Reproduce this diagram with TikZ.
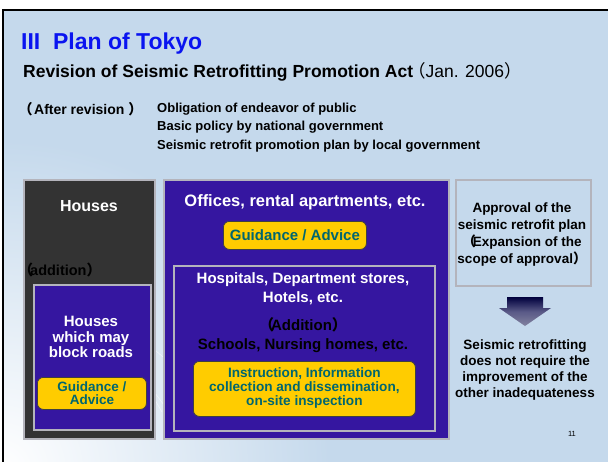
\documentclass[tikz,border=0pt]{standalone}
\usepackage{fontspec}
\setmainfont{Liberation Sans}
\newfontfamily\cjk{Noto Sans CJK SC}
\usetikzlibrary{shadings}
\definecolor{bg}{HTML}{C5D9EC}
\definecolor{purp}{HTML}{3516A0}
\definecolor{dark}{HTML}{333333}
\definecolor{yel}{HTML}{FFCC00}
\definecolor{teal}{HTML}{00666F}
\definecolor{ttl}{HTML}{0A14F0}
\definecolor{edge}{HTML}{B4B4BC}
\newcommand{\fs}[2]{\fontsize{#1}{#2}\selectfont}
\tikzset{
  panel/.style={draw=edge, line width=1.6pt, anchor=north west, inner sep=0pt},
  yelbox/.style={draw=black!75, line width=0.8pt, fill=yel, rounded corners=6pt, anchor=north west, inner sep=0pt},
  txt/.style={inner sep=0pt, align=center, font=\bfseries},
  listline/.style={anchor=base west, inner sep=0pt, font=\bfseries\fs{13}{15}},
}
\begin{document}
\begin{tikzpicture}[x=1pt,y=-1pt]
\useasboundingbox (0,0) rectangle (608,461);
% slide background
\begin{scope}
\clip (0,0) rectangle (608,461);
\fill[white] (0,0) rectangle (608,461);
\fill[bg] (3,10) rectangle (620,470);
\begin{scope}
\clip (3,10) rectangle (620,470);
\shade[inner color=white, outer color=bg] (0,470) circle (330);
\end{scope}
\draw[black, line width=2pt] (3,10) rectangle (620,470);
% faint streaks
\draw[white, opacity=0.6, line width=0.6pt] (155,350) -- (163,357);
\draw[white, opacity=0.6, line width=0.6pt] (155,393) -- (164,405);
\draw[white, opacity=0.6, line width=0.6pt] (155,400) -- (162,412);
\end{scope}
% header texts
\node[anchor=base west, inner sep=0pt, text=ttl, font=\bfseries\fs{23}{26}] (title) at (21,49) {III\ \ Plan of Tokyo};
\node[anchor=base west, inner sep=0pt, font=\fs{17.5}{20}] (sub) at (23,77) {\textbf{Revision of Seismic Retrofitting Promotion Act}\hspace{-5pt}{\cjk （}Jan. 2006{\cjk ）}};
\node[anchor=base west, inner sep=0pt, font=\bfseries\fs{14}{16}] (after) at (18.5,114) {{\cjk （}\hspace{1.5pt}After revision {\cjk ）}};
\node[listline] (l1) at (157,112) {Obligation of endeavor of public};
\node[listline] (l2) at (157,130) {Basic policy by national government};
\node[listline] (l3) at (157,149) {Seismic retrofit promotion plan by local government};
% houses column
\node[panel, fill=dark, minimum width=131pt, minimum height=259pt] (houses) at (23,179) {};
\node[txt, text=white, font=\bfseries\fs{16}{18}] (housest) at (89,206) {Houses};
\node[anchor=west, inner sep=0pt, font=\bfseries\fs{14.5}{16}] (addl) at (18.5,270) {{\cjk （}\hspace{-3pt}addition{\cjk ）}};
\node[panel, fill=purp, minimum width=117pt, minimum height=145pt] (block) at (33,284) {};
\node[txt, text=white, font=\bfseries\fs{15}{15.5}] (blockt) at (91,337) {Houses\\which may\\block roads};
\node[yelbox, minimum width=109pt, minimum height=32pt] (g1) at (37,377) {};
\node[txt, text=teal, font=\bfseries\fs{13.5}{13.5}] (g1t) at (g1.center) {Guidance /\\Advice};
% offices column
\node[panel, fill=purp, minimum width=285pt, minimum height=259pt] (offices) at (163,179) {};
\node[txt, text=white, font=\bfseries\fs{16.5}{18}] (offt) at (305,202) {Offices, rental apartments, etc.};
\node[yelbox, minimum width=143pt, minimum height=28pt] (g2) at (223,221) {};
\node[txt, text=teal, font=\bfseries\fs{15}{16}] (g2t) at (g2.center) {Guidance / Advice};
\node[panel, fill=purp, minimum width=261pt, minimum height=165pt] (hosp) at (173,265) {};
\node[txt, text=white, font=\bfseries\fs{15}{19}] (hospt) at (303,289) {Hospitals, Department stores,\\Hotels, etc.};
\node[txt, text=black, font=\bfseries\fs{15}{19}] (schoolt) at (303,335) {{\cjk （}\hspace{-3pt}Addition{\cjk ）}\hspace{-6pt}\\Schools, Nursing homes, etc.};
\node[yelbox, minimum width=222pt, minimum height=55pt] (g3) at (193,361) {};
\node[txt, text=teal, font=\bfseries\fs{13.6}{14}] (g3t) at ([yshift=1pt]g3.center) {Instruction, Information\\collection and dissemination,\\on-site inspection};
% right column
\node[draw=edge, line width=1.6pt, anchor=north west, inner sep=0pt, minimum width=135pt, minimum height=106pt] (appr) at (455,179) {};
\node[txt, font=\bfseries\fs{13.5}{17}] (apprt) at (522,234.5) {Approval of the\\seismic retrofit plan\\{\cjk （}\hspace{-3pt}Expansion of the\\scope of approval{\cjk ）}\hspace{-6pt}};
\shade[top color=black!20!blue!30!black, bottom color=white!55!blue!25!gray, middle color=black!40!blue!30!gray]
  (507,297) -- (543,297) -- (543,308) -- (551,308) -- (525,326) -- (499,308) -- (507,308) -- cycle;
\coordinate (arrowtip) at (525,326);
\node[txt, font=\bfseries\fs{13.5}{16.3}] (resultt) at (525,370) {Seismic retrofitting\\does not require the\\improvement of the\\other inadequateness};
\node[inner sep=0pt, font=\fs{7.5}{8}] (page) at (572,434) {11};
\end{tikzpicture}
\end{document}
